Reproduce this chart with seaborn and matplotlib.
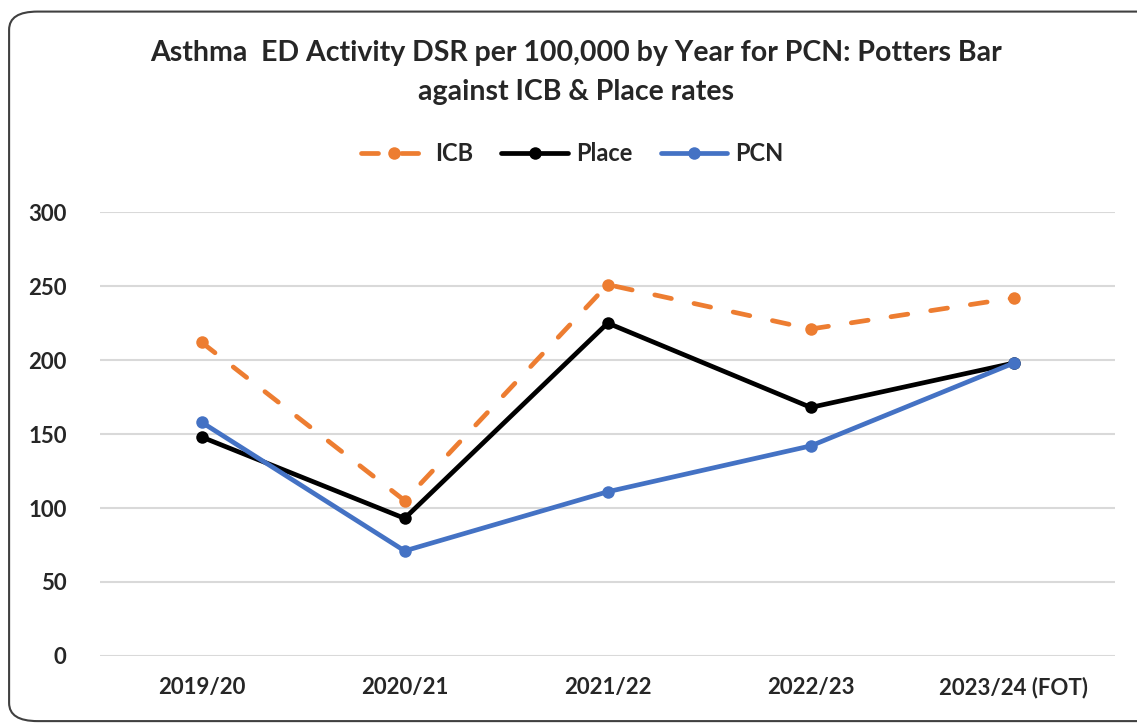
import pandas as pd
import seaborn as sns
import matplotlib.pyplot as plt
from matplotlib.patches import FancyBboxPatch

years = ['2019/20', '2020/21', '2021/22', '2022/23', '2023/24 (FOT)']
icb = [212, 105, 251, 221, 242]
place = [148, 93, 225, 168, 198]
pcn = [158, 71, 111, 142, 198]

series_names = ['ICB', 'Place', 'PCN']
series_colors = ['#ED7D31', '#000000', '#4472C4']

df = pd.DataFrame({'year': years * 3,
                   'rate': icb + place + pcn,
                   'series': [s for s in series_names for _ in years]})

sns.set_style('white')
plt.rcParams['font.family'] = ['Lato', 'DejaVu Sans']

fig = plt.figure(figsize=(11.37, 7.24), dpi=100)
ax = fig.add_axes([0.088, 0.094, 0.893, 0.613])

for name, color in zip(series_names, series_colors):
    sub = df[df['series'] == name]
    ls = (0, (3.6, 4.9)) if name == 'ICB' else '-'
    sns.lineplot(data=sub, x='year', y='rate', ax=ax, color=color, lw=3.4,
                 marker='o', markersize=9, markeredgewidth=0, linestyle=ls,
                 label=name, sort=False)

for line in ax.get_lines():
    line.set_dash_capstyle('round')
    line.set_solid_capstyle('round')

ax.set_ylim(0, 300)
ax.set_xlim(-0.5, 4.5)
ax.set_yticks(range(0, 301, 50))
ax.yaxis.grid(True, color='#D9D9D9', lw=1.5)
ax.xaxis.grid(False)
for sp in ax.spines.values():
    sp.set_visible(False)
ax.set_xlabel('')
ax.set_ylabel('')
ax.tick_params(axis='both', length=0, labelsize=16)
ax.tick_params(axis='x', pad=15)
ax.tick_params(axis='y', pad=24)
for lab in ax.get_xticklabels() + ax.get_yticklabels():
    lab.set_fontweight('bold')

handles, labels = ax.get_legend_handles_labels()
ax.legend_.remove()
fig.legend(handles, labels, loc='center', bbox_to_anchor=(0.503, 0.788), ncol=3,
           frameon=False, prop={'size': 17, 'weight': 'bold'},
           handlelength=2.8, columnspacing=1.2, handletextpad=0.35)

fig.text(0.507, 0.90, 'Asthma  ED Activity DSR per 100,000 by Year for PCN: Potters Bar\nagainst ICB & Place rates',
         ha='center', va='center', fontsize=20.5, fontweight='bold', linespacing=1.6)

border = FancyBboxPatch((0.008, 0.004), 1.1, 0.98, boxstyle='round,pad=0,rounding_size=0.025',
                        transform=fig.transFigure, fill=False, edgecolor='#404040', lw=1.5)
fig.patches.append(border)

fig.savefig('out.png', dpi=100)
